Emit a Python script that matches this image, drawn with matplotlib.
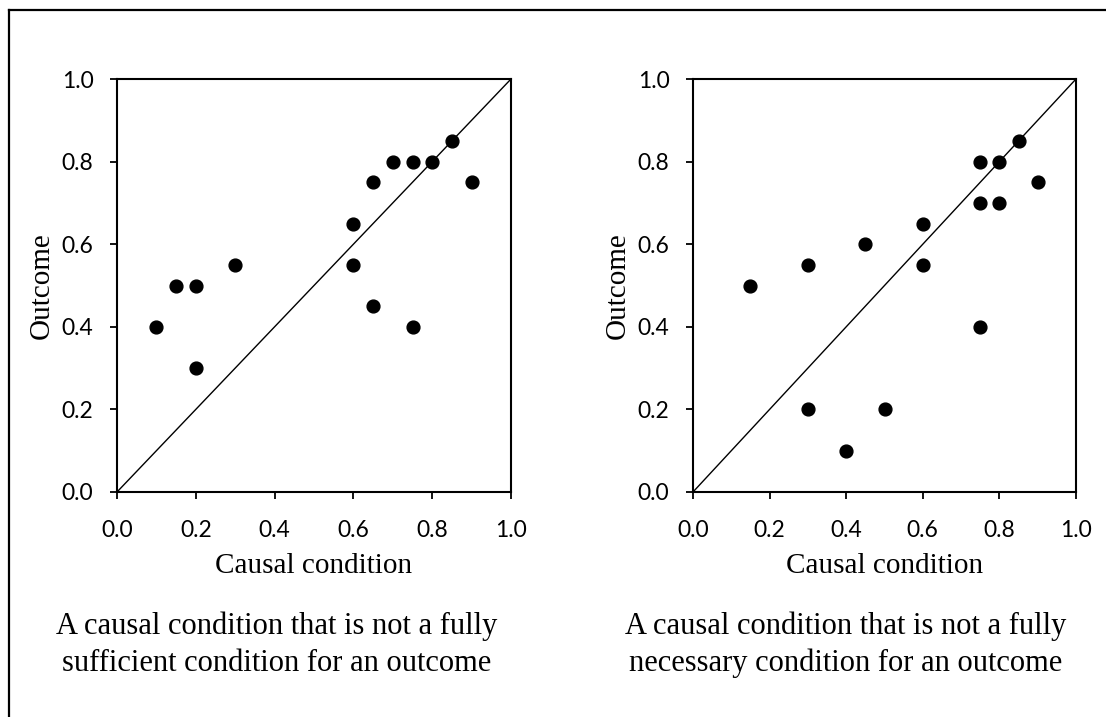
import matplotlib
matplotlib.use("Agg")
import matplotlib.pyplot as plt
from matplotlib.lines import Line2D

# left panel: not fully sufficient
suff_x = [0.10, 0.15, 0.20, 0.20, 0.30, 0.60, 0.60, 0.65, 0.65, 0.70, 0.75, 0.75, 0.80, 0.85, 0.90]
suff_y = [0.40, 0.50, 0.50, 0.30, 0.55, 0.65, 0.55, 0.75, 0.45, 0.80, 0.80, 0.40, 0.80, 0.85, 0.75]

# right panel: not fully necessary
nec_x = [0.15, 0.30, 0.30, 0.40, 0.45, 0.50, 0.60, 0.60, 0.75, 0.75, 0.75, 0.80, 0.80, 0.85, 0.90]
nec_y = [0.50, 0.55, 0.20, 0.10, 0.60, 0.20, 0.65, 0.55, 0.80, 0.70, 0.40, 0.80, 0.70, 0.85, 0.75]

ticks = [0.0, 0.2, 0.4, 0.6, 0.8, 1.0]
tick_labels = ["0.0", "0.2", "0.4", "0.6", "0.8", "1.0"]
captions = ["A causal condition that is not a fully\nsufficient condition for an outcome",
            "A causal condition that is not a fully\nnecessary condition for an outcome"]

serif = ["Liberation Serif", "DejaVu Serif"]
sans = ["Lato", "DejaVu Sans"]

fig = plt.figure(figsize=(11.06, 7.17), dpi=100)
W, H = 1106, 717

# outer frame (right and bottom edges run off the picture)
fig.add_artist(Line2D([9/W, 1.0], [1 - 10/H, 1 - 10/H], transform=fig.transFigure, color="black", lw=1.6))
fig.add_artist(Line2D([9/W, 9/W], [0.0, 1 - 10/H], transform=fig.transFigure, color="black", lw=1.6))

boxes = [[117/W, 225/H, 394/W, 413/H], [693/W, 225/H, 383/W, 413/H]]
data = [(suff_x, suff_y), (nec_x, nec_y)]
cap_x = [277/W, 846/W]

for box, (xs, ys), cap, cx in zip(boxes, data, captions, cap_x):
    ax = fig.add_axes(box)
    ax.plot([0, 1], [0, 1], color="black", lw=1.0)
    ax.scatter(xs, ys, s=85, color="black", zorder=3, clip_on=False)
    ax.set_xlim(0, 1)
    ax.set_ylim(0, 1)
    ax.set_xticks(ticks)
    ax.set_yticks(ticks)
    ax.set_xticklabels(tick_labels, fontfamily=sans, fontsize=16.5)
    ax.set_yticklabels(tick_labels, fontfamily=sans, fontsize=16.5)
    ax.tick_params(direction="out", length=5, width=1.3, pad=12)
    ax.tick_params(axis="x", pad=15.5)
    for sp in ax.spines.values():
        sp.set_linewidth(1.5)
    ax.set_xlabel("Causal condition", fontfamily=serif, fontsize=21, labelpad=8)
    ax.set_ylabel("Outcome", fontfamily=serif, fontsize=21, labelpad=5)
    fig.text(cx, 1 - 645/H, cap, ha="center", va="center", fontfamily=serif,
             fontsize=22, linespacing=1.35)

fig.savefig("out.png", dpi=100)
